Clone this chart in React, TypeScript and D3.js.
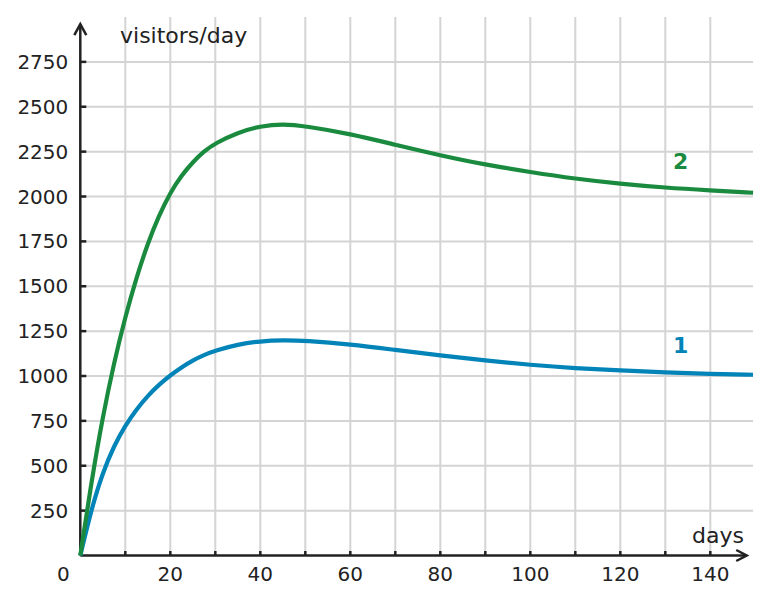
import React from "react";
import * as d3 from "d3";

// days since launch
const days = [0, 2.5, 5, 7.5, 10, 12.5, 15, 17.5, 20, 22.5, 25, 27.5, 30, 35, 40, 45, 50, 60, 70, 80, 90, 100, 110, 120, 130, 140, 149.5];
const visitorsOne = [0, 262, 462, 612, 725, 815, 890, 952, 1004, 1049, 1087, 1117, 1141, 1176, 1194, 1200, 1197, 1177, 1145, 1114, 1086, 1062, 1043, 1031, 1019, 1012, 1007];
const visitorsTwo = [0, 415, 775, 1075, 1330, 1550, 1740, 1895, 2022, 2117, 2192, 2252, 2297, 2357, 2392, 2405, 2392, 2349, 2288, 2229, 2177, 2136, 2099, 2071, 2049, 2034, 2021];

const xGridDays = [10, 20, 30, 40, 50, 60, 70, 80, 90, 100, 110, 120, 130, 140];
const xTickLabels = [20, 40, 60, 80, 100, 120, 140];
const yTickValues = [250, 500, 750, 1000, 1250, 1500, 1750, 2000, 2250, 2500, 2750];

const series = [
    { name: "1", values: visitorsOne, color: "#0284b8", labelDay: 133.4, labelValue: 1130 },
    { name: "2", values: visitorsTwo, color: "#1a8b3e", labelDay: 133.4, labelValue: 2155 },
];

const ink = "#222222";
const gridColor = "#d4d4d4";
const font = "'DejaVu Sans', sans-serif";

export default function App() {
    const width = 771;
    const height = 604;

    const x = d3.scaleLinear().domain([0, 150]).range([80.3, 755.3]);
    const y = d3.scaleLinear().domain([0, 3000]).range([555.5, 17]);

    const xEnd = x(149.5);
    const x0 = x(0);
    const y0 = y(0);

    // basis keeps the hand-read points from showing corners
    const line = d3
        .line<number>()
        .x((_, i) => x(days[i]))
        .y((d) => y(d))
        .curve(d3.curveBasis);

    const xArrow = x(148.1);
    const yArrow = y(2960);

    return (
        <svg
            width={width}
            height={height}
            style={{ position: "absolute", left: 0, top: 0, background: "#fff" }}
            fontFamily={font}
        >
            {/* grid */}
            <g stroke={gridColor} strokeWidth={2}>
                {xGridDays.map((d) => (
                    <line key={"gx" + d} x1={x(d)} x2={x(d)} y1={y(3000)} y2={y0} />
                ))}
                {yTickValues.map((v) => (
                    <line key={"gy" + v} x1={x0} x2={xEnd} y1={y(v)} y2={y(v)} />
                ))}
            </g>

            {/* axes */}
            <g stroke={ink} strokeWidth={2.5} fill="none" strokeLinecap="butt">
                <line x1={x0} x2={xArrow} y1={y0} y2={y0} />
                <line x1={x0} x2={x0} y1={y0} y2={yArrow} />
                <polyline points={`${xArrow - 10.5},${y0 - 5.5} ${xArrow},${y0} ${xArrow - 10.5},${y0 + 5.5}`} strokeLinejoin="miter" />
                <polyline points={`${x0 - 6},${yArrow + 11} ${x0},${yArrow} ${x0 + 6},${yArrow + 11}`} strokeLinejoin="miter" />
                {xGridDays.map((d) => (
                    <line key={"tx" + d} x1={x(d)} x2={x(d)} y1={y0} y2={y0 - 4.5} />
                ))}
                {yTickValues.map((v) => (
                    <line key={"ty" + v} x1={x0} x2={x0 + 6} y1={y(v)} y2={y(v)} />
                ))}
            </g>

            {/* tick labels */}
            <g fill={ink} fontSize={20}>
                {yTickValues.map((v) => (
                    <text key={"ly" + v} x={x0 - 12} y={y(v) + 7} textAnchor="end">
                        {v}
                    </text>
                ))}
                {xTickLabels.map((d) => (
                    <text key={"lx" + d} x={x(d)} y={581} textAnchor="middle">
                        {d}
                    </text>
                ))}
                <text x={x0 - 17} y={581} textAnchor="middle">0</text>
            </g>

            {/* axis titles */}
            <g fill={ink} fontSize={22}>
                <text x={120} y={43}>visitors/day</text>
                <text x={744} y={542.5} textAnchor="end">days</text>
            </g>

            {/* curves */}
            {series.map((s) => (
                <path
                    key={s.name}
                    d={line(s.values) ?? ""}
                    fill="none"
                    stroke={s.color}
                    strokeWidth={4.2}
                    strokeLinejoin="round"
                />
            ))}

            {/* series labels */}
            {series.map((s) => (
                <text
                    key={"name" + s.name}
                    x={x(s.labelDay)}
                    y={y(s.labelValue)}
                    textAnchor="middle"
                    fill={s.color}
                    fontSize={22}
                    fontWeight="bold"
                >
                    {s.name}
                </text>
            ))}
        </svg>
    );
}
